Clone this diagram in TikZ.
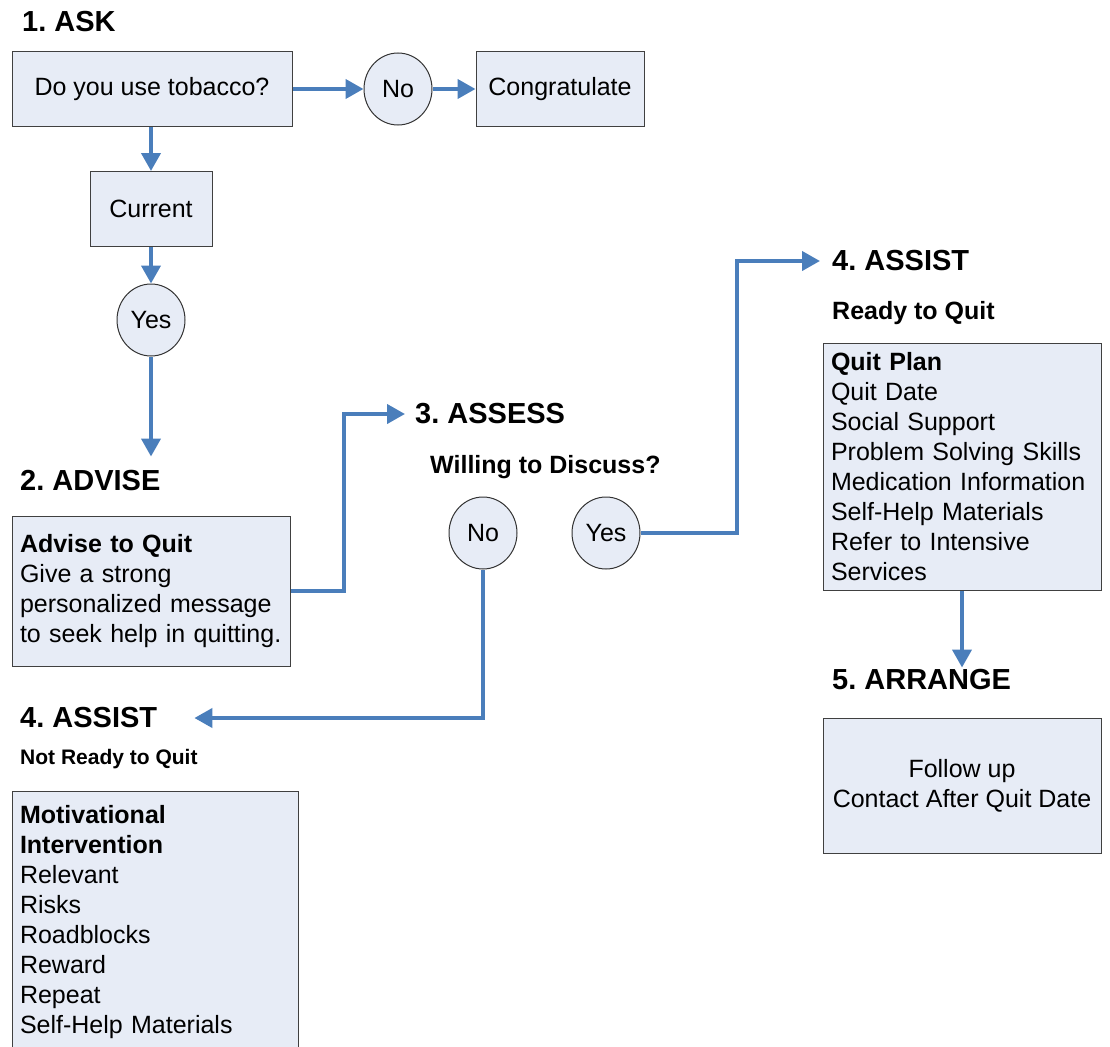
\documentclass[tikz,border=0pt]{standalone}
\usepackage{fontspec}
\setmainfont{Liberation Sans}
\usetikzlibrary{arrows.meta,shapes.geometric}
\definecolor{boxfill}{HTML}{E7ECF6}
\definecolor{flowblue}{HTML}{4A7EBB}
\definecolor{boxline}{HTML}{404040}
\frenchspacing

\begin{document}
\begin{tikzpicture}[x=1pt, y=-1pt,
    stepbox/.style={rectangle, draw=boxline, line width=1pt, fill=boxfill, inner xsep=8pt, inner ysep=0pt, font=\fontsize{25}{30}\selectfont},
    listbox/.style={stepbox, text width=262pt, align=left},
    answer/.style={ellipse, draw=black!80, line width=1pt, fill=boxfill, minimum width=68pt, minimum height=72pt, inner sep=0pt, font=\fontsize{25}{30}\selectfont},
    heading/.style={anchor=west, inner sep=0pt, font=\fontsize{29}{35}\selectfont\bfseries},
    subhead/.style={anchor=west, inner sep=0pt, font=\fontsize{25}{30}\selectfont\bfseries},
    flowarrow/.style={draw=flowblue, line width=4pt, -{Triangle[length=18pt, width=19pt]}}
]
    \useasboundingbox (0,0) rectangle (1110,1046);
    \clip (0,0) rectangle (1110,1046);

    % Step 1: Ask
    \node[heading] (askhead) at (22,22) {1. ASK};
    \node[stepbox, minimum width=280pt, minimum height=75pt] (tobacco) at (152,89) {Do you use tobacco?};
    \node[answer] (noask) at (398,89) {No};
    \node[stepbox, minimum width=168pt, minimum height=75pt] (congrat) at (560,89) {Congratulate};
    \node[stepbox, minimum width=122pt, minimum height=75pt] (current) at (151,209) {Current};
    \node[answer] (yesask) at (151,320) {Yes};

    % Step 2: Advise
    \node[heading] (advisehead) at (20,481) {2. ADVISE};
    \node[listbox, minimum height=150pt] (advise) at (151,591) {\textbf{Advise to Quit}\\Give a strong\\personalized message\\to seek help in quitting.};

    % Step 3: Assess
    \node[heading] (assesshead) at (415,414) {3. ASSESS};
    \node[subhead] (willing) at (430,467) {Willing to Discuss?};
    \node[answer] (noassess) at (483,533) {No};
    \node[answer] (yesassess) at (606,533) {Yes};

    % Step 4: Assist (not ready)
    \node[heading] (assistleft) at (20,718) {4. ASSIST};
    \node[subhead, font=\fontsize{21}{26}\selectfont\bfseries] (notready) at (20,759) {Not Ready to Quit};
    \node[listbox, text width=270pt, minimum height=262pt] (motiv) at (155,922) {\textbf{Motivational}\\\textbf{Intervention}\\Relevant\\Risks\\Roadblocks\\Reward\\Repeat\\Self-Help Materials};

    % Step 4: Assist (ready)
    \node[heading] (assistright) at (832,261) {4. ASSIST};
    \node[subhead] (ready) at (832,313) {Ready to Quit};
    \node[listbox, minimum height=247pt] (plan) at (962,467) {\textbf{Quit Plan}\\Quit Date\\Social Support\\Problem Solving Skills\\Medication Information\\Self-Help Materials\\Refer to Intensive\\Services};

    % Step 5: Arrange
    \node[heading] (arrangehead) at (832,680) {5. ARRANGE};
    \node[stepbox, minimum width=278pt, minimum height=135pt, align=center] (followup) at (962,786) {Follow up\\Contact After Quit Date};

    % Connectors
    \draw[flowarrow] (tobacco.east) -- (noask.west);
    \draw[flowarrow] (noask.east) -- (congrat.west);
    \draw[flowarrow] (current.north |- tobacco.south) -- (current.north);
    \draw[flowarrow] (current.south) -- (yesask.north);
    \draw[flowarrow, shorten >=14pt] (yesask.south) -- (yesask.south |- advisehead.north);
    \draw[flowarrow, shorten >=10pt] (advise.east) -- ++(53,0) |- (assesshead.west);
    \draw[flowarrow, shorten >=37pt] (noassess.south) |- (assistleft.east);
    \draw[flowarrow, shorten >=12pt] (yesassess.east) -- ++(96,0) |- (assistright.west);
    \draw[flowarrow, shorten >=2pt] (plan.south) -- (plan.south |- arrangehead.north);
\end{tikzpicture}
\end{document}
